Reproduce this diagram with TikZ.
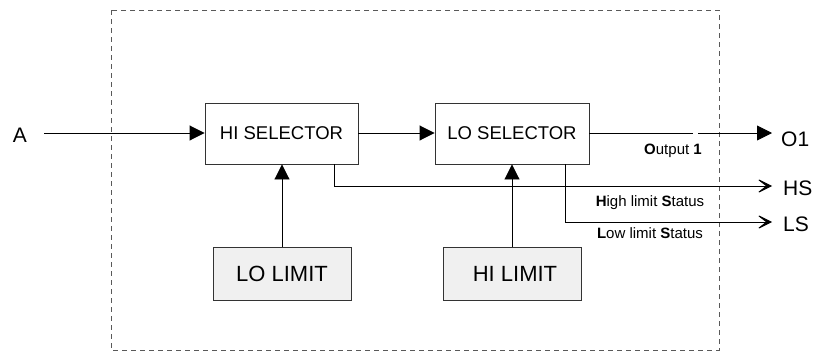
\documentclass[tikz,border=0pt]{standalone}
\usepackage{fontspec}
\setmainfont{Liberation Sans}
\usetikzlibrary{arrows.meta}
\begin{document}
\begin{tikzpicture}[x=1pt,y=-1pt,
  selbox/.style={draw=black!80,line width=0.9pt,minimum width=153pt,minimum height=61pt,inner sep=0pt,font=\fontsize{18.5}{20}\selectfont},
  limbox/.style={draw=black!80,line width=0.9pt,fill=black!6,minimum width=138pt,minimum height=53pt,inner sep=0pt,font=\fontsize{22}{24}\selectfont},
  biglbl/.style={inner sep=0pt,font=\fontsize{21}{24}\selectfont},
  smalllbl/.style={inner sep=0pt,font=\fontsize{15}{17}\selectfont},
  conn/.style={line width=0.9pt},
  filltip/.style={-{Triangle[length=15pt,width=15pt]}},
  opentip/.style={-{Stealth[length=17pt,width=17pt,inset=11pt]}}
]
\useasboundingbox (0,0) rectangle (815,351);
\draw[black!65,line width=0.8pt,dash pattern=on 5pt off 4pt] (111,10) rectangle (719,350);

\node[selbox] (hi) at (281.5,133.5) {HI SELECTOR};
\node[selbox,minimum width=154pt] (lo) at (512,133.5) {LO SELECTOR};
\node[limbox] (lolim) at (282,273.5) {\raisebox{-4pt}{LO LIMIT}};
\node[limbox] (hilim) at (512,273.5) {\raisebox{-4pt}{\hspace{6pt}HI LIMIT}};

\node[biglbl] (a) at (20,135.5) {A};
\node[biglbl,anchor=west] (o1) at (781,139) {O1};
\node[biglbl,anchor=west] (hs) at (783,188) {HS};
\node[biglbl,anchor=west] (ls) at (783,224.5) {LS};

\coordinate (ain) at (44,133);
\coordinate (gapa) at (693,133);
\coordinate (gapb) at (698,133);
\coordinate (oend) at (772,133);
\coordinate (hsc) at (334,186);
\coordinate (hsend) at (772,186);
\coordinate (lsc) at (565,222);
\coordinate (lsend) at (772,222);

\draw[conn,filltip] (ain) -- (ain -| hi.west);
\draw[conn,filltip] (hi.east |- 0,133) -- (lo.west |- 0,133);
\draw[conn] (lo.east |- 0,133) -- (gapa);
\draw[conn,filltip] (gapb) -- (oend);
\draw[conn,filltip] (lolim.north) -- (hi.south -| lolim.north);
\draw[conn,filltip] (hilim.north) -- (lo.south -| hilim.north);
\draw[conn,opentip] (hi.south -| hsc) -- (hsc) -- (hsend);
\draw[conn,opentip] (lo.south -| lsc) -- (lsc) -- (lsend);

\node[smalllbl] (out1) at (673,151) {\textbf{O}utput \textbf{1}};
\node[smalllbl] (hls) at (650,203) {\textbf{H}igh limit \textbf{S}tatus};
\node[smalllbl] (lls) at (650,233) {\textbf{L}ow limit \textbf{S}tatus};
\end{tikzpicture}
\end{document}
